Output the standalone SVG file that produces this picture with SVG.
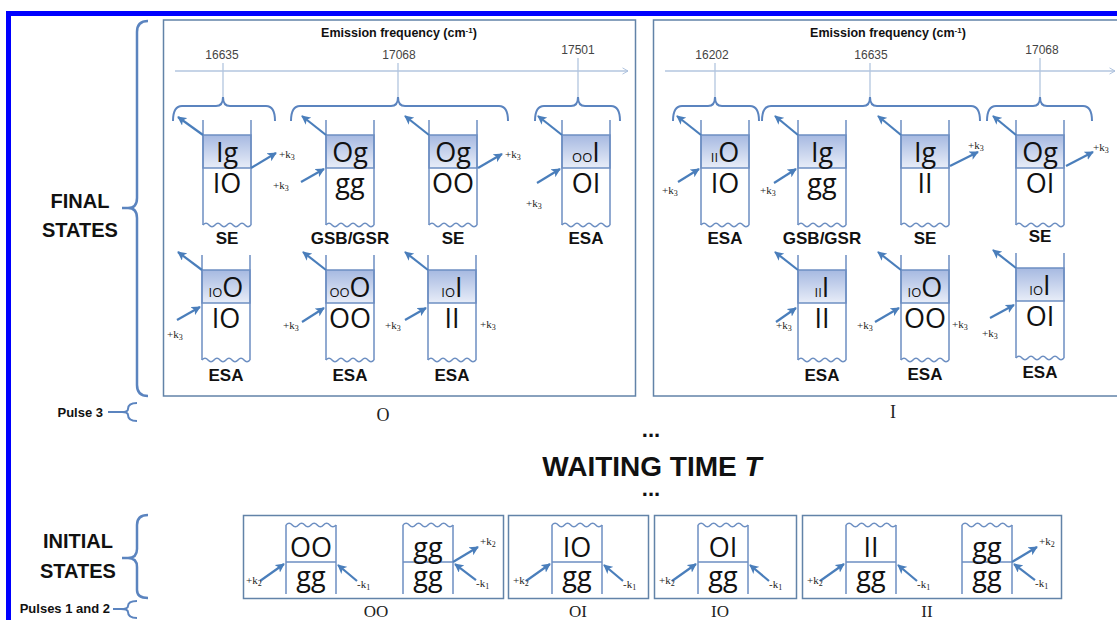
<svg xmlns="http://www.w3.org/2000/svg" width="1117" height="620" viewBox="0 0 1117 620">
<style>
.big{font-family:"Open Sans","Noto Sans",sans-serif;font-size:27px;text-anchor:middle;fill:#111}
.sm{font-size:13px}
.lab{font-family:"Liberation Sans",Arial,sans-serif;font-weight:bold;font-size:17px;text-anchor:middle;fill:#111}
.k{font-family:"Liberation Serif","Times New Roman",serif;font-size:11px;fill:#222}
.ks{font-size:8px}
.tick{font-family:"Liberation Sans",Arial,sans-serif;font-size:12px;fill:#444;text-anchor:middle}
.em{font-family:"Liberation Sans",Arial,sans-serif;font-weight:bold;font-size:12.5px;text-anchor:middle;fill:#111}
.side{font-family:"Liberation Sans",Arial,sans-serif;font-weight:bold;font-size:20px;text-anchor:middle;fill:#111}
.wt{font-family:"Liberation Sans",Arial,sans-serif;font-weight:bold;font-size:28px;text-anchor:middle;fill:#111}
.dots{font-family:"Liberation Sans",Arial,sans-serif;font-weight:bold;font-size:22px;text-anchor:middle;fill:#111}
.pl{font-family:"Liberation Sans",Arial,sans-serif;font-weight:bold;font-size:13px;text-anchor:end;fill:#111}
.ser{font-family:"Liberation Serif","Times New Roman",serif;font-size:18px;text-anchor:middle;fill:#222}
.ser2{font-family:"Liberation Serif","Times New Roman",serif;font-size:17px;text-anchor:middle;fill:#222}
.ln{stroke:#6d8fc2;stroke-width:1.5;fill:none}
.ar{stroke:#4a7ebb;stroke-width:2.2;fill:none}
.br{stroke:#5b84bf;stroke-width:2;fill:none}
.vb{stroke:#5b84bf;stroke-width:2.5;fill:none}
.ax{stroke:#b3c6df;stroke-width:1.3;fill:none}
.pan{stroke:#6283a8;stroke-width:1.5;fill:none}
</style>
<defs>
<linearGradient id="sh" x1="0" y1="0" x2="0" y2="1"><stop offset="0" stop-color="#a6b9e1"/><stop offset="1" stop-color="#e8edf8"/></linearGradient>
<marker id="ah" viewBox="0 0 10 10" refX="9" refY="5" markerWidth="4.2" markerHeight="4.2" orient="auto"><path d="M0,0 L10,5 L0,10 L2.5,5 z" fill="#4a7ebb"/></marker>
<marker id="axa" viewBox="0 0 10 10" refX="9" refY="5" markerWidth="6" markerHeight="6" orient="auto"><path d="M2,1 L9,5 L2,9" fill="none" stroke="#a9bfdc" stroke-width="1.2"/></marker>
<g id="fd">
<rect x="0" y="15" width="48" height="33" fill="url(#sh)" stroke="#6d8fc2" stroke-width="1.5"/>
<path class="ln" d="M0,0 V105 M48,0 V105"/>
<path class="ln" d="M0,105 q3,-3.5 6,0 t6,0 t6,0 t6,0 t6,0 t6,0 t6,0 t6,0"/>
</g>
<g id="bd">
<path class="ln" d="M0,3 V72 M50,3 V72 M0,40 H50"/>
<path class="ln" d="M0,3 q3.125,-3.5 6.25,0 t6.25,0 t6.25,0 t6.25,0 t6.25,0 t6.25,0 t6.25,0 t6.25,0"/>
</g>
</defs>

<path d="M8.5,620 V13.5 H1117" stroke="#0000ff" stroke-width="5" fill="none"/>

<g id="side-labels">
<text class="side" x="80" y="208">FINAL</text>
<text class="side" x="80" y="237">STATES</text>
<path class="vb" d="M148,21 Q137,21 137,32 V198 Q137,208 128,208 Q137,208 137,218 V385 Q137,396 148,396 M122,208 H130"/>
<text class="pl" x="103" y="417">Pulse 3</text>
<path class="br" d="M137,403 Q128,403 128,409 Q128,412 122,412 Q128,412 128,415 Q128,421 137,421 M108,412 H122"/>
<text class="side" x="78" y="548">INITIAL</text>
<text class="side" x="78" y="578">STATES</text>
<path class="vb" d="M148,515 Q137,515 137,525 V549 Q137,558 128,558 Q137,558 137,567 V590 Q137,598 148,598 M122,558 H130"/>
<text class="pl" x="110" y="613">Pulses 1 and 2</text>
<path class="br" d="M137,601 Q128,601 128,606 Q128,609 121,609 Q128,609 128,612 Q128,618 137,618 M113,609 H121"/>
</g>

<g id="panel-O">
<rect class="pan" x="163.5" y="20" width="472" height="376"/>
<text class="em" x="399" y="37">Emission frequency (cm<tspan dy="-4" font-size="8">-1</tspan><tspan dy="4">)</tspan></text>
<line class="ax" x1="175" y1="71" x2="628" y2="71" marker-end="url(#axa)"/>
<text class="tick" x="222" y="59">16635</text>
<text class="tick" x="399" y="59">17068</text>
<text class="tick" x="578" y="54">17501</text>
<path class="ax" d="M223,63 V97 M398,63 V97 M578,58 V97"/>
<path class="br" d="M173,121 Q173,106 182,106 H216 Q223,106 223,97 Q223,106 230,106 H266 Q275,106 275,121"/>
<path class="br" d="M291,121 Q291,106 300,106 H391 Q398,106 398,97 Q398,106 405,106 H499 Q508,106 508,121"/>
<path class="br" d="M535,121 Q535,106 544,106 H571 Q578,106 578,97 Q578,106 585,106 H611 Q620,106 620,121"/>
<text class="ser" x="383" y="421">O</text>
</g>

<g id="panel-I">
<rect class="pan" x="653.5" y="20" width="480" height="376"/>
<text class="em" x="888" y="37">Emission frequency (cm<tspan dy="-4" font-size="8">-1</tspan><tspan dy="4">)</tspan></text>
<line class="ax" x1="665" y1="71" x2="1115" y2="71" marker-end="url(#axa)"/>
<text class="tick" x="712" y="59">16202</text>
<text class="tick" x="871" y="59">16635</text>
<text class="tick" x="1042" y="54">17068</text>
<path class="ax" d="M715,63 V97 M870,63 V97 M1040,58 V97"/>
<path class="br" d="M673,121 Q673,106 682,106 H708 Q715,106 715,97 Q715,106 722,106 H750 Q759,106 759,121"/>
<path class="br" d="M762,121 Q762,106 771,106 H863 Q870,106 870,97 Q870,106 877,106 H971 Q980,106 980,121"/>
<path class="br" d="M987,121 Q987,106 996,106 H1033 Q1040,106 1040,97 Q1040,106 1047,106 H1083 Q1092,106 1092,121"/>
<text class="ser" x="893" y="418">I</text>
</g>

<g id="d1"><use href="#fd" x="203" y="120"/><text class="big" x="227" y="162">Ig</text><text class="big" x="227" y="193">IO</text><text class="lab" x="227" y="244">SE</text></g>
<g id="d2"><use href="#fd" x="326" y="120"/><text class="big" x="350" y="162">Og</text><text class="big" x="350" y="193">gg</text><text class="lab" x="350" y="244">GSB/GSR</text></g>
<g id="d3"><use href="#fd" x="429" y="120"/><text class="big" x="453" y="162">Og</text><text class="big" x="453" y="193">OO</text><text class="lab" x="453" y="244">SE</text></g>
<g id="d4"><use href="#fd" x="562" y="120"/><text class="big" x="586" y="162"><tspan class="sm">OO</tspan>I</text><text class="big" x="586" y="193">OI</text><text class="lab" x="586" y="244">ESA</text></g>
<g id="d5"><use href="#fd" x="202" y="255"/><text class="big" x="226" y="297"><tspan class="sm">IO</tspan>O</text><text class="big" x="226" y="328">IO</text><text class="lab" x="226" y="381">ESA</text></g>
<g id="d6"><use href="#fd" x="326" y="255"/><text class="big" x="350" y="297"><tspan class="sm">OO</tspan>O</text><text class="big" x="350" y="328">OO</text><text class="lab" x="350" y="381">ESA</text></g>
<g id="d7"><use href="#fd" x="428" y="255"/><text class="big" x="452" y="297"><tspan class="sm">IO</tspan>I</text><text class="big" x="452" y="328">II</text><text class="lab" x="452" y="381">ESA</text></g>

<g id="r1"><use href="#fd" x="701" y="120"/><text class="big" x="725" y="162"><tspan class="sm">II</tspan>O</text><text class="big" x="725" y="193">IO</text><text class="lab" x="725" y="244">ESA</text></g>
<g id="r2"><use href="#fd" x="798" y="120"/><text class="big" x="822" y="162">Ig</text><text class="big" x="822" y="193">gg</text><text class="lab" x="822" y="244">GSB/GSR</text></g>
<g id="r3"><use href="#fd" x="901" y="120"/><text class="big" x="925" y="162">Ig</text><text class="big" x="925" y="193">II</text><text class="lab" x="925" y="244">SE</text></g>
<g id="r4"><use href="#fd" x="1016" y="120"/><text class="big" x="1040" y="162">Og</text><text class="big" x="1040" y="193">OI</text><text class="lab" x="1040" y="242">SE</text></g>
<g id="r5"><use href="#fd" x="798" y="255"/><text class="big" x="822" y="297"><tspan class="sm">II</tspan>I</text><text class="big" x="822" y="328">II</text><text class="lab" x="822" y="381">ESA</text></g>
<g id="r6"><use href="#fd" x="901" y="255"/><text class="big" x="925" y="297"><tspan class="sm">IO</tspan>O</text><text class="big" x="925" y="328">OO</text><text class="lab" x="925" y="380">ESA</text></g>
<g id="r7"><use href="#fd" x="1016" y="253"/><text class="big" x="1040" y="295"><tspan class="sm">IO</tspan>I</text><text class="big" x="1040" y="326">OI</text><text class="lab" x="1040" y="378">ESA</text></g>

<g id="waiting">
<text class="dots" x="651" y="437">...</text>
<text class="wt" x="652" y="476">WAITING TIME <tspan font-style="italic">T</tspan></text>
<text class="dots" x="651" y="496">...</text>
</g>

<g id="init-OO">
<rect class="pan" x="243.5" y="515.5" width="260" height="83"/>
<use href="#bd" x="286" y="522"/>
<text class="big" x="311" y="557">OO</text><text class="big" x="311" y="586">gg</text>
<use href="#bd" x="403" y="522"/>
<text class="big" x="428" y="557">gg</text><text class="big" x="428" y="586">gg</text>
<text class="ser2" x="376" y="617">OO</text>
</g>
<g id="init-OI">
<rect class="pan" x="508.5" y="515.5" width="140" height="83"/>
<use href="#bd" x="552" y="522"/>
<text class="big" x="577" y="557">IO</text><text class="big" x="577" y="586">gg</text>
<text class="ser2" x="578" y="617">OI</text>
</g>
<g id="init-IO">
<rect class="pan" x="654.5" y="515.5" width="142" height="83"/>
<use href="#bd" x="698" y="522"/>
<text class="big" x="723" y="557">OI</text><text class="big" x="723" y="586">gg</text>
<text class="ser2" x="720" y="617">IO</text>
</g>
<g id="init-II">
<rect class="pan" x="802.5" y="515.5" width="259" height="83"/>
<use href="#bd" x="846" y="522"/>
<text class="big" x="871" y="557">II</text><text class="big" x="871" y="586">gg</text>
<use href="#bd" x="962" y="522"/>
<text class="big" x="987" y="557">gg</text><text class="big" x="987" y="586">gg</text>
<text class="ser2" x="927" y="617">II</text>
</g>

<g id="connectors">
<line class="ar" x1="203" y1="135" x2="178" y2="117" marker-end="url(#ah)"/>
<line class="ar" x1="251" y1="168" x2="276" y2="153" marker-end="url(#ah)"/>
<line class="ar" x1="326" y1="135" x2="302" y2="116" marker-end="url(#ah)"/>
<line class="ar" x1="301" y1="182" x2="324" y2="169" marker-end="url(#ah)"/>
<line class="ar" x1="429" y1="135" x2="405" y2="116" marker-end="url(#ah)"/>
<line class="ar" x1="478" y1="168" x2="502" y2="154" marker-end="url(#ah)"/>
<line class="ar" x1="562" y1="135" x2="538" y2="116" marker-end="url(#ah)"/>
<line class="ar" x1="537" y1="183" x2="560" y2="169" marker-end="url(#ah)"/>
<line class="ar" x1="202" y1="270" x2="178" y2="252" marker-end="url(#ah)"/>
<line class="ar" x1="177" y1="320" x2="200" y2="307" marker-end="url(#ah)"/>
<line class="ar" x1="326" y1="270" x2="303" y2="252" marker-end="url(#ah)"/>
<line class="ar" x1="302" y1="322" x2="324" y2="308" marker-end="url(#ah)"/>
<line class="ar" x1="428" y1="270" x2="405" y2="252" marker-end="url(#ah)"/>
<line class="ar" x1="405" y1="320" x2="426" y2="308" marker-end="url(#ah)"/>
<line class="ar" x1="701" y1="135" x2="677" y2="116" marker-end="url(#ah)"/>
<line class="ar" x1="678" y1="182" x2="699" y2="169" marker-end="url(#ah)"/>
<line class="ar" x1="798" y1="135" x2="775" y2="116" marker-end="url(#ah)"/>
<line class="ar" x1="774" y1="183" x2="796" y2="169" marker-end="url(#ah)"/>
<line class="ar" x1="901" y1="135" x2="878" y2="116" marker-end="url(#ah)"/>
<line class="ar" x1="950" y1="166" x2="978" y2="152" marker-end="url(#ah)"/>
<line class="ar" x1="1016" y1="135" x2="993" y2="116" marker-end="url(#ah)"/>
<line class="ar" x1="1066" y1="166" x2="1093" y2="152" marker-end="url(#ah)"/>
<line class="ar" x1="798" y1="270" x2="775" y2="252" marker-end="url(#ah)"/>
<line class="ar" x1="776" y1="322" x2="796" y2="308" marker-end="url(#ah)"/>
<line class="ar" x1="901" y1="270" x2="878" y2="252" marker-end="url(#ah)"/>
<line class="ar" x1="875" y1="322" x2="899" y2="308" marker-end="url(#ah)"/>
<line class="ar" x1="1016" y1="268" x2="993" y2="250" marker-end="url(#ah)"/>
<line class="ar" x1="990" y1="318" x2="1014" y2="305" marker-end="url(#ah)"/>

<line class="ar" x1="260" y1="581" x2="284" y2="564" marker-end="url(#ah)"/>
<line class="ar" x1="357" y1="581" x2="338" y2="565" marker-end="url(#ah)"/>
<line class="ar" x1="453" y1="562" x2="478" y2="547" marker-end="url(#ah)"/>
<line class="ar" x1="476" y1="580" x2="455" y2="564" marker-end="url(#ah)"/>
<line class="ar" x1="526" y1="581" x2="550" y2="564" marker-end="url(#ah)"/>
<line class="ar" x1="623" y1="581" x2="604" y2="565" marker-end="url(#ah)"/>
<line class="ar" x1="672" y1="581" x2="696" y2="564" marker-end="url(#ah)"/>
<line class="ar" x1="769" y1="581" x2="750" y2="565" marker-end="url(#ah)"/>
<line class="ar" x1="820" y1="581" x2="844" y2="564" marker-end="url(#ah)"/>
<line class="ar" x1="917" y1="581" x2="898" y2="565" marker-end="url(#ah)"/>
<line class="ar" x1="1012" y1="562" x2="1037" y2="547" marker-end="url(#ah)"/>
<line class="ar" x1="1035" y1="580" x2="1014" y2="564" marker-end="url(#ah)"/>

<g class="k">
<text x="279" y="158">+k<tspan class="ks" dy="2">3</tspan></text>
<text x="273" y="189">+k<tspan class="ks" dy="2">3</tspan></text>
<text x="505" y="158">+k<tspan class="ks" dy="2">3</tspan></text>
<text x="526" y="207">+k<tspan class="ks" dy="2">3</tspan></text>
<text x="167" y="338">+k<tspan class="ks" dy="2">3</tspan></text>
<text x="283" y="329">+k<tspan class="ks" dy="2">3</tspan></text>
<text x="385" y="329">+k<tspan class="ks" dy="2">3</tspan></text>
<text x="480" y="328">+k<tspan class="ks" dy="2">3</tspan></text>
<text x="662" y="194">+k<tspan class="ks" dy="2">3</tspan></text>
<text x="760" y="194">+k<tspan class="ks" dy="2">3</tspan></text>
<text x="968" y="149">+k<tspan class="ks" dy="2">3</tspan></text>
<text x="1093" y="151">+k<tspan class="ks" dy="2">3</tspan></text>
<text x="776" y="329">+k<tspan class="ks" dy="2">3</tspan></text>
<text x="857" y="329">+k<tspan class="ks" dy="2">3</tspan></text>
<text x="952" y="328">+k<tspan class="ks" dy="2">3</tspan></text>
<text x="982" y="337">+k<tspan class="ks" dy="2">3</tspan></text>
<text x="246" y="584">+k<tspan class="ks" dy="2">2</tspan></text>
<text x="357" y="588">-k<tspan class="ks" dy="2">1</tspan></text>
<text x="480" y="545">+k<tspan class="ks" dy="2">2</tspan></text>
<text x="476" y="587">-k<tspan class="ks" dy="2">1</tspan></text>
<text x="513" y="584">+k<tspan class="ks" dy="2">2</tspan></text>
<text x="623" y="588">-k<tspan class="ks" dy="2">1</tspan></text>
<text x="659" y="584">+k<tspan class="ks" dy="2">2</tspan></text>
<text x="769" y="588">-k<tspan class="ks" dy="2">1</tspan></text>
<text x="807" y="584">+k<tspan class="ks" dy="2">2</tspan></text>
<text x="917" y="588">-k<tspan class="ks" dy="2">1</tspan></text>
<text x="1039" y="545">+k<tspan class="ks" dy="2">2</tspan></text>
<text x="1035" y="587">-k<tspan class="ks" dy="2">1</tspan></text>
</g>
</g>
</svg>
